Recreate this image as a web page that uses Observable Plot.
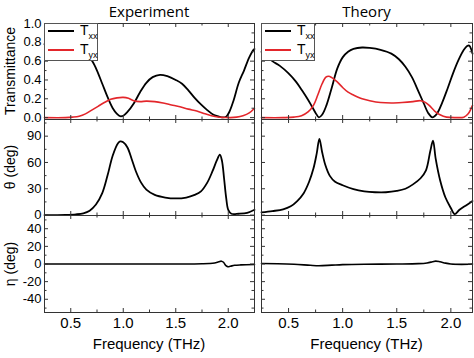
<!DOCTYPE html>
<html><head><meta charset="utf-8">
<script src="https://cdn.jsdelivr.net/npm/d3@7"></script>
<script src="https://cdn.jsdelivr.net/npm/@observablehq/plot@0.6"></script>
<style>
body{margin:0;background:#fff;}
#chart{position:relative;width:474px;height:358px;overflow:hidden;font-family:"Liberation Sans",Arial,sans-serif;color:#000;}
.abs{position:absolute;white-space:nowrap;line-height:1;}
.ctr{transform:translate(-50%,-50%);}
.rot{transform:translate(-50%,-50%) rotate(-90deg);}
.legend{position:absolute;background:#fff;border:1px solid #555;box-sizing:border-box;}
.legend .ln{position:absolute;height:0;}
.legend .tx{position:absolute;font-size:14px;line-height:1;}
.legend sub{font-size:9px;vertical-align:-4px;}
</style></head><body><div id="chart"></div>
<script>
// ---- data (frequency in THz) ----
const panelTitles = ["Experiment", "Theory"];
const yLabels = ["Transmittance", "θ (deg)", "η (deg)"];
const xLabel = "Frequency (THz)";
const seriesNames = ["xx", "yx"];

const expTxxF = [0.25,0.35,0.45,0.55,0.62,0.67,0.71,0.75,0.8,0.85,0.9,0.94,0.97,1.0,1.04,1.1,1.16,1.22,1.28,1.35,1.42,1.5,1.56,1.62,1.68,1.74,1.8,1.86,1.9,1.94,1.98,2.01,2.05,2.1,2.15,2.2,2.24,2.25];
const expTxx  = [0.78,0.80,0.80,0.76,0.70,0.65,0.59,0.50,0.36,0.22,0.10,0.04,0.015,0.02,0.06,0.15,0.27,0.37,0.43,0.455,0.44,0.40,0.36,0.29,0.21,0.14,0.08,0.03,0.015,0.003,0.01,0.06,0.18,0.37,0.50,0.64,0.72,0.73];
const expTyxF = [0.25,0.45,0.52,0.58,0.64,0.7,0.76,0.82,0.88,0.94,1.0,1.05,1.1,1.16,1.22,1.3,1.38,1.46,1.54,1.62,1.7,1.78,1.84,1.9,1.96,2.02,2.08,2.14,2.2,2.25];
const expTyx  = [0,0,0.005,0.015,0.04,0.08,0.12,0.16,0.195,0.21,0.215,0.205,0.18,0.17,0.175,0.17,0.155,0.135,0.115,0.09,0.07,0.04,0.02,0.006,0.002,0,0.005,0.02,0.05,0.10];

const thTxxF = [0.25,0.3,0.35,0.42,0.5,0.57,0.63,0.68,0.72,0.75,0.78,0.81,0.85,0.9,0.95,1.0,1.05,1.1,1.18,1.25,1.35,1.45,1.52,1.58,1.64,1.7,1.75,1.79,1.83,1.87,1.92,1.97,2.02,2.07,2.12,2.15,2.17,2.19,2.2];
const thTxx  = [0.70,0.65,0.60,0.55,0.47,0.38,0.28,0.19,0.11,0.05,0.003,0.03,0.13,0.32,0.52,0.64,0.70,0.73,0.745,0.74,0.72,0.68,0.62,0.54,0.43,0.28,0.15,0.05,0.003,0.04,0.16,0.31,0.47,0.61,0.72,0.76,0.765,0.72,0.68];
const thTyxF = [0.25,0.45,0.55,0.62,0.68,0.73,0.77,0.81,0.845,0.87,0.9,0.95,1.0,1.05,1.1,1.18,1.25,1.35,1.45,1.55,1.65,1.72,1.76,1.8,1.85,1.9,1.96,2.05,2.12,2.16,2.2];
const thTyx  = [0,0,0.005,0.02,0.06,0.13,0.24,0.36,0.43,0.44,0.425,0.38,0.32,0.27,0.24,0.20,0.18,0.16,0.155,0.16,0.17,0.18,0.165,0.13,0.07,0.03,0.005,0,0.005,0.04,0.13];

const expThetaF = [0.25,0.45,0.55,0.62,0.68,0.74,0.8,0.85,0.9,0.95,0.97,1.0,1.04,1.08,1.12,1.17,1.22,1.3,1.4,1.5,1.6,1.68,1.74,1.8,1.85,1.89,1.92,1.94,1.96,1.98,2.0,2.03,2.1,2.18,2.25];
const expTheta  = [0,0.2,0.8,2,5,12,25,45,68,82,84,83,77,64,50,37,29,23,20,19,20,23,27,37,50,62,69,62,42,20,6,1.5,1.5,2.5,6];
const thThetaF = [0.25,0.35,0.45,0.52,0.58,0.64,0.69,0.73,0.76,0.785,0.81,0.84,0.88,0.93,1.0,1.1,1.2,1.3,1.4,1.5,1.58,1.65,1.72,1.77,1.81,1.835,1.86,1.9,1.95,2.0,2.035,2.08,2.14,2.2];
const thTheta  = [3,4.5,6.5,10,16,25,38,53,70,87,72,57,45,38,34,29.5,27,26,26,27.5,30,35,42,51,73,85,64,40,20,8,1,6,11,16];

const expEtaF = [0.25,0.8,1.2,1.6,1.75,1.82,1.87,1.91,1.935,1.955,1.975,1.995,2.02,2.06,2.12,2.25];
const expEta  = [0,0,0,0,0.3,0.6,1.2,2.5,3.2,2,-1.5,-3,-2.5,-1.5,-1,-0.6];
const thEtaF = [0.25,0.4,0.55,0.7,0.78,0.9,1.0,1.2,1.5,1.7,1.78,1.83,1.86,1.9,1.95,2.0,2.1,2.2];
const thEta  = [0.5,0.3,-0.3,-1.5,-2,-1.3,-0.7,-0.2,0,0.4,1.2,2.5,3.3,2.5,1,0,-0.4,0];

const xMajor = [0.5, 1.0, 1.5, 2.0];
const xMinor = [0.75, 1.25, 1.75, 2.25];
const tMajor = [0, 0.2, 0.4, 0.6, 0.8, 1.0], tMinor = [0.1, 0.3, 0.5, 0.7, 0.9];
const thMajor = [0, 30, 60, 90], thMinor = [15, 45, 75, 105];
const etaMajor = [-40, -20, 0, 20, 40], etaMinor = [-50, -30, -10, 10, 30, 50];

// ---- layout ----
const FONT = '"Liberation Sans", Arial, sans-serif';
const BLACK = "#000", RED = "#e3262b", FRAME = "#333";
const cols = [
  {x0: 44, x1: 254, domain: [0.25, 2.25]},
  {x0: 261, x1: 472, domain: [0.25, 2.2]}
];
const rows = [
  {y0: 23, y1: 119, domain: [-0.02, 1.0], major: tMajor, minor: tMinor, fmt: d3.format(".1f")},
  {y0: 119, y1: 215, domain: [-0.5, 109], major: thMajor, minor: thMinor, fmt: d => String(d)},
  {y0: 215, y1: 312, domain: [-55, 55], major: etaMajor, minor: etaMinor, fmt: d => String(d)}
];
const toRows = (f, v) => f.map((x, i) => ({f: x, v: v[i]}));
const panels = [
  [[{d: toRows(expTxxF, expTxx), c: BLACK, w: 1.8}, {d: toRows(expTyxF, expTyx), c: RED, w: 1.6}],
   [{d: toRows(thTxxF, thTxx), c: BLACK, w: 1.8}, {d: toRows(thTyxF, thTyx), c: RED, w: 1.6}]],
  [[{d: toRows(expThetaF, expTheta), c: BLACK, w: 1.8}], [{d: toRows(thThetaF, thTheta), c: BLACK, w: 1.8}]],
  [[{d: toRows(expEtaF, expEta), c: BLACK, w: 1.6}], [{d: toRows(thEtaF, thEta), c: BLACK, w: 1.6}]]
];

const chart = document.getElementById("chart");

function makePanel(r, c) {
  const R = rows[r], C = cols[c];
  const w = C.x1 - C.x0, h = R.y1 - R.y0;
  const showY = c === 0, showX = r === 2;
  const ml = showY ? 44 : 2, mr = 2, mt = 2, mb = showX ? 26 : 2;
  const inX = d => d >= C.domain[0] && d <= C.domain[1];
  const inY = d => d >= R.domain[0] && d <= R.domain[1];
  const tk = {stroke: FRAME, strokeWidth: 1};
  const marks = [];
  for (const s of panels[r][c]) {
    marks.push(Plot.line(s.d, {x: "f", y: "v", stroke: s.c, strokeWidth: s.w, curve: "catmull-rom"}));
  }
  const xM = xMajor.filter(inX), xm = xMinor.filter(inX);
  const yM = R.major.filter(inY), ym = R.minor.filter(inY);
  marks.push(
    Plot.tickX(xM, {x: d => d, insetTop: h - 4, ...tk}),
    Plot.tickX(xM, {x: d => d, insetBottom: h - 4, ...tk}),
    Plot.tickX(xm, {x: d => d, insetTop: h - 2.5, ...tk}),
    Plot.tickX(xm, {x: d => d, insetBottom: h - 2.5, ...tk}),
    Plot.tickY(yM, {y: d => d, insetRight: w - 4, ...tk}),
    Plot.tickY(yM, {y: d => d, insetLeft: w - 4, ...tk}),
    Plot.tickY(ym, {y: d => d, insetRight: w - 2.5, ...tk}),
    Plot.tickY(ym, {y: d => d, insetLeft: w - 2.5, ...tk}),
    Plot.frame({stroke: FRAME, strokeWidth: 1})
  );
  if (showY) marks.push(Plot.axisY({ticks: yM, tickSize: 0, tickPadding: 3, tickFormat: R.fmt, fontSize: 13, label: null}));
  if (showX) marks.push(Plot.axisX({ticks: xM, tickSize: 0, tickPadding: 5, tickFormat: d3.format(".1f"), fontSize: 15, label: null}));
  const svg = Plot.plot({
    width: ml + w + mr, height: mt + h + mb,
    marginLeft: ml, marginRight: mr, marginTop: mt, marginBottom: mb,
    x: {domain: C.domain, label: null, ...(showX ? {} : {axis: null})},
    y: {domain: R.domain, label: null, ...(showY ? {} : {axis: null})},
    style: {background: "transparent", overflow: "visible", fontFamily: FONT, fontSize: "14px", color: "#000"},
    marks
  });
  svg.style.position = "absolute";
  svg.style.left = (C.x0 - ml) + "px";
  svg.style.top = (R.y0 - mt) + "px";
  chart.appendChild(svg);
}

for (let r = 0; r < 3; r++) for (let c = 0; c < 2; c++) makePanel(r, c);

function addText(txt, x, y, cls, size, extra = "") {
  const d = document.createElement("div");
  d.className = "abs " + cls;
  d.textContent = txt;
  d.style.cssText += `left:${x}px;top:${y}px;font-size:${size}px;${extra}`;
  chart.appendChild(d);
  return d;
}
// titles
cols.forEach((C, i) => addText(panelTitles[i], (C.x0 + C.x1) / 2, 10.5, "ctr", 15, 'font-family:"Open Sans",sans-serif;'));
// y labels
rows.forEach((R, i) => addText(yLabels[i], 10, (R.y0 + R.y1) / 2, "rot", 14));
// x labels
cols.forEach(C => addText(xLabel, (C.x0 + C.x1) / 2, 343, "ctr", 15));

// legends
cols.forEach(C => {
  const L = document.createElement("div");
  L.className = "legend";
  L.style.cssText = `left:${C.x0}px;top:23px;width:54px;height:38px;`;
  [BLACK, RED].forEach((col, k) => {
    const y = k === 0 ? 6 : 25;
    const ln = document.createElement("div");
    ln.className = "ln";
    ln.style.cssText = `left:3px;top:${y}px;width:26px;border-top:2px solid ${col};`;
    L.appendChild(ln);
    const t = document.createElement("div");
    t.className = "tx";
    t.style.cssText = `left:35px;top:${y - 7}px;`;
    t.innerHTML = `T<sub>${seriesNames[k]}</sub>`;
    L.appendChild(t);
  });
  chart.appendChild(L);
});
</script></body></html>
